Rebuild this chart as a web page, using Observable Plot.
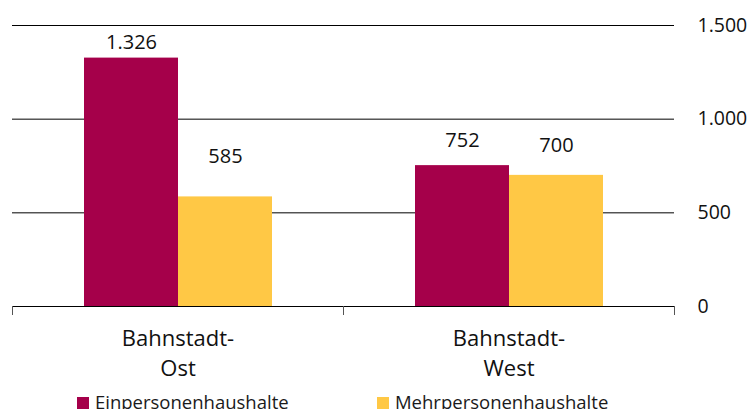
<!DOCTYPE html>
<html><head><meta charset="utf-8">
<script src="https://cdn.jsdelivr.net/npm/d3@7"></script>
<script src="https://cdn.jsdelivr.net/npm/@observablehq/plot@0.6"></script>
<style>
html,body{margin:0;padding:0;background:#fff;font-family:"Open Sans",sans-serif;overflow:hidden;}
#legend{display:flex;padding-left:77px;font-size:18.5px;color:#1a1a1a;line-height:1.362;white-space:nowrap;}
.item{display:flex;align-items:baseline;}
.item:first-child{width:300px;}
.sw{width:11.6px;height:11.6px;display:inline-block;margin-right:6.4px;}
</style></head><body>
<div id="chart"></div>
<div id="legend"></div>
<script>
// Data
const categories = ["Bahnstadt-Ost", "Bahnstadt-West"];
const series = ["Einpersonenhaushalte", "Mehrpersonenhaushalte"];
const einValues = [1326, 752];
const mehrValues = [585, 700];
// heights (in data units) at which the value labels sit in the picture
const einLabelAt = [1410, 885];
const mehrLabelAt = [798, 858];
const yTicks = [0, 500, 1000, 1500];
const colors = ["#A5004A", "#FFC845"];

const rows = [];
categories.forEach((c, i) => {
  rows.push({cat: c, series: series[0], value: einValues[i], labelAt: einLabelAt[i]});
  rows.push({cat: c, series: series[1], value: mehrValues[i], labelAt: mehrLabelAt[i]});
});

const de = d3.formatLocale({decimal: ",", thousands: ".", grouping: [3], currency: ["", " €"]});
const fmt = de.format(",d");

const plot = Plot.plot({
  width: 752,
  height: 389,
  marginTop: 25,
  marginBottom: 83,
  marginLeft: 12,
  marginRight: 78,
  style: {fontFamily: "Open Sans", fontSize: "20px", color: "#111", background: "#fff", overflow: "visible"},
  fx: {domain: categories, padding: 0, axis: null},
  x: {domain: series, paddingInner: 0, paddingOuter: 0.75, axis: null},
  y: {domain: [0, 1500], axis: null},
  color: {domain: series, range: colors},
  marks: [
    Plot.ruleY(yTicks.slice(1), {stroke: "#000", strokeWidth: 1}),
    Plot.barY(rows, {fx: "cat", x: "series", y: "value", fill: "series"}),
    Plot.ruleY([0], {stroke: "#000", strokeWidth: 1}),
    Plot.frame({anchor: "left", insetTop: 281, insetBottom: -8, stroke: "#555"}),
    Plot.frame({anchor: "right", insetTop: 281, insetBottom: -8, stroke: "#555"}),
    Plot.text(rows, {fx: "cat", x: "series", y: "labelAt", text: d => fmt(d.value), fontSize: 20, fill: "#111"}),
    Plot.axisY({anchor: "right", ticks: yTicks, tickSize: 0, tickPadding: 23, tickFormat: fmt, fontSize: 19.5, label: null, fill: "#111"}),
    Plot.axisFx({anchor: "bottom", tickSize: 0, tickPadding: 18, fontSize: 22, lineHeight: 1.36, label: null,
      tickFormat: d => d.replace("-", "-\n"), fill: "#111"})
  ]
});
document.getElementById("chart").appendChild(plot);

const legend = d3.select("#legend");
series.forEach((s, i) => {
  const it = legend.append("div").attr("class", "item");
  it.append("span").attr("class", "sw").style("background", colors[i]);
  it.append("span").text(s);
});
</script>
</body></html>
